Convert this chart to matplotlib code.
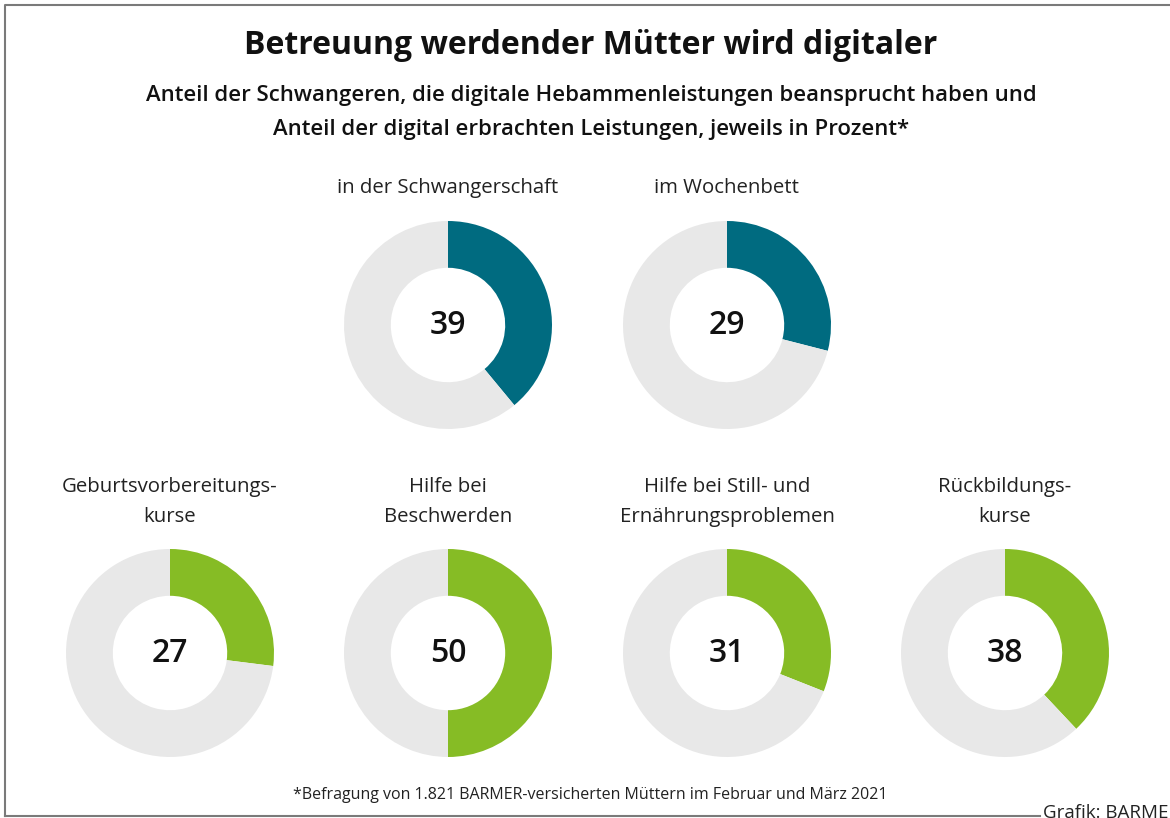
import matplotlib
matplotlib.use("Agg")
from matplotlib import pyplot as plt
from matplotlib.lines import Line2D

plt.rcParams['font.family'] = ['Open Sans', 'DejaVu Sans']

W, H = 1170, 818

title = "Betreuung werdender Mütter wird digitaler"
subtitle = ["Anteil der Schwangeren, die digitale Hebammenleistungen beansprucht haben und",
            "Anteil der digital erbrachten Leistungen, jeweils in Prozent*"]
footnote = "*Befragung von 1.821 BARMER-versicherten Müttern im Februar und März 2021"
source = "Grafik: BARMER"

# top row: share of pregnant women using digital midwife services
top_labels = ["in der Schwangerschaft", "im Wochenbett"]
top_values = [39, 29]

# bottom row: share of services delivered digitally
bottom_labels = ["Geburtsvorbereitungs-\nkurse", "Hilfe bei\nBeschwerden",
                 "Hilfe bei Still- und\nErnährungsproblemen", "Rückbildungs-\nkurse"]
bottom_values = [27, 50, 31, 38]

teal = "#006b80"
green = "#86bc25"
grey = "#e8e8e8"


def px(x, y):
    return x / W, 1 - y / H


def donut(fig, cx, cy, value, color, r=104):
    ax = fig.add_axes([(cx - r) / W, 1 - (cy + r) / H, 2 * r / W, 2 * r / H])
    ax.pie([value, 100 - value], colors=[color, grey], startangle=90,
           counterclock=False, radius=1,
           wedgeprops=dict(width=0.45, edgecolor='none'))
    ax.set_xlim(-1, 1)
    ax.set_ylim(-1, 1)
    ax.set_aspect('equal')
    ax.axis('off')
    ax.text(0, 0, str(value), ha='center', va='center', fontsize=23,
            fontweight='semibold', color='#111111')
    return ax


fig = plt.figure(figsize=(W / 100, H / 100), dpi=100)

# frame
fig.add_artist(Line2D([5 / W, 5 / W, 1.0], [1 - 816 / H, 1 - 5 / H, 1 - 5 / H],
                      transform=fig.transFigure, color='#7a7a7a', lw=1.5))
fig.add_artist(Line2D([5 / W, 1040 / W], [1 - 816 / H, 1 - 816 / H],
                      transform=fig.transFigure, color='#7a7a7a', lw=1.5))

fig.text(*px(591, 46), title, ha='center', va='center', fontsize=23,
         fontweight='bold', color='#111111')
fig.text(*px(591, 96), subtitle[0], ha='center', va='center', fontsize=15.9,
         fontweight='semibold', color='#111111')
fig.text(*px(591, 129), subtitle[1], ha='center', va='center', fontsize=15.9,
         fontweight='semibold', color='#111111')

top_x = [448, 727]
for x, lab, v in zip(top_x, top_labels, top_values):
    fig.text(*px(x, 188), lab, ha='center', va='center', fontsize=14.7, color='#222222')
    donut(fig, x, 325, v, teal)

bottom_x = [170, 448, 727, 1005]
for x, lab, v in zip(bottom_x, bottom_labels, bottom_values):
    fig.text(*px(x, 502), lab, ha='center', va='center', fontsize=14.7,
             color='#222222', linespacing=1.65)
    donut(fig, x, 653, v, green)

fig.text(*px(590, 795), footnote, ha='center', va='center', fontsize=11.5, color='#222222')
fig.text(*px(1043, 818), source, ha='left', va='baseline', fontsize=13.5, color='#222222')

fig.savefig("out.png", dpi=100)
